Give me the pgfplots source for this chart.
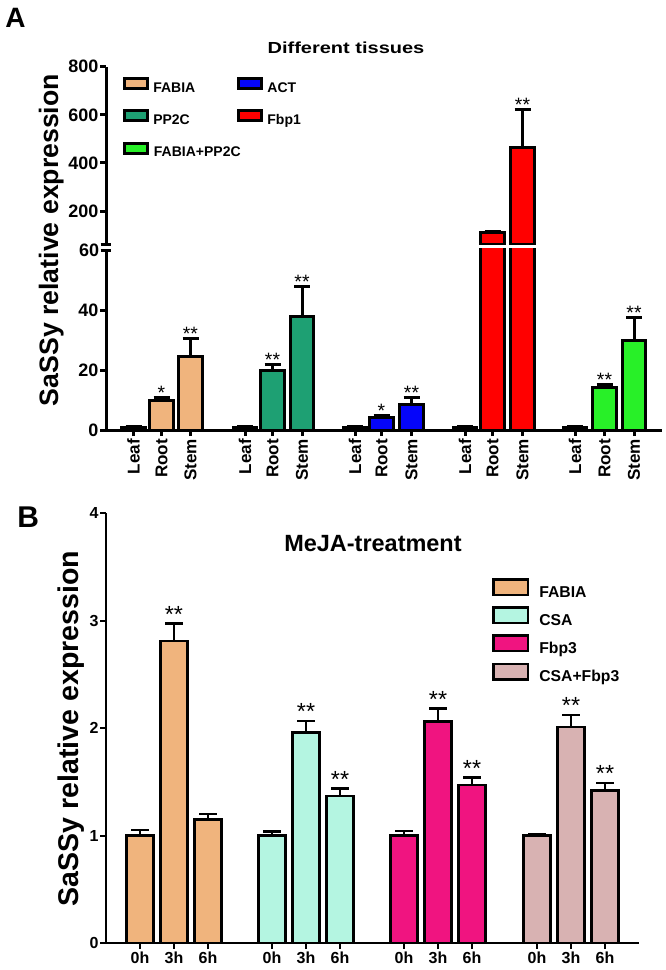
\documentclass[border=0pt]{standalone}
\usepackage{fontspec}
\setmainfont{Liberation Sans}
\usepackage{graphicx}
\usepackage{pgfplots}
\pgfplotsset{compat=1.18}

\definecolor{cFABIA}{RGB}{240,180,125}
\definecolor{cPPTC}{RGB}{30,160,115}
\definecolor{cACT}{RGB}{5,5,250}
\definecolor{cFbpA}{RGB}{255,0,0}
\definecolor{cFP}{RGB}{40,240,40}
\definecolor{cCSA}{RGB}{180,245,225}
\definecolor{cFbpB}{RGB}{240,20,128}
\definecolor{cCF}{RGB}{216,178,178}

\pgfplotsset{
  Abar/.style={ybar, bar width=23.5, draw=black, line width=2.25pt,
    error bars/.cd, y dir=plus, y explicit,
    error bar style={line width=2.25pt, black},
    error mark options={rotate=90, black, mark size=6pt, line width=2.25pt}},
  Bbar/.style={ybar, bar width=27.5, draw=black, line width=1.9pt,
    error bars/.cd, y dir=plus, y explicit,
    error bar style={line width=1.9pt, black},
    error mark options={rotate=90, black, mark size=6.5pt, line width=1.9pt}},
}
\tikzset{
  astA/.style={anchor=base, inner sep=0pt, yshift=-1.5pt, font=\fontsize{14.5}{16}\selectfont},
  astB/.style={anchor=base, inner sep=0pt, yshift=1pt, font=\fontsize{17.5}{20}\selectfont},
}

\begin{document}
\begin{tikzpicture}
\path[use as bounding box] (0pt,0pt) rectangle (499.5pt,-727.5pt);

% ---------------- Panel A, lower segment ----------------
\begin{axis}[
  at={(79.5pt,-322.5pt)}, anchor=south west,
  scale only axis, width=417pt, height=136.125pt,
  xmin=106, xmax=662, ymin=0, ymax=60.5,
  axis x line=bottom, axis y line=left,
  axis line style={-, line width=2.25pt},
  every outer x axis line/.append style={-},
  every outer y axis line/.append style={-},
  tick style={black, line width=2.25pt},
  tick align=outside, major tick length=4.5pt,
  xtick={133.5,161.5,190.5,245,272.5,302,355,381.5,411.5,465,492.5,522.5,575,604.5,634},
  xticklabels={Leaf,Root,Stem,Leaf,Root,Stem,Leaf,Root,Stem,Leaf,Root,Stem,Leaf,Root,Stem},
  xticklabel style={rotate=90, anchor=east, inner sep=2pt, font=\fontsize{12.8}{14}\selectfont\bfseries},
  ytick={0,20,40}, extra y ticks={60},
  extra y tick style={tick align=center, major tick length=8pt},
  yticklabel style={inner xsep=1pt, font=\fontsize{13.5}{15}\selectfont\bfseries},
  /pgf/number format/assume math mode=true,
]
\addplot[fill=cFABIA, Abar] table[x=x,y=y,y error=e] {
x y e
133.5 1 0.15
161.5 10 0.8
190.5 24.5 6.1
};
\addplot[fill=cPPTC, Abar] table[x=x,y=y,y error=e] {
x y e
245 1 0.15
272.5 19.8 1.9
302 38 10
};
\addplot[fill=cACT, Abar] table[x=x,y=y,y error=e] {
x y e
355 1 0.15
381.5 4.2 0.8
411.5 8.6 2.4
};
\addplot[fill=cFbpA, Abar] table[x=x,y=y,y error=e] {
x y e
465 1 0.15
};
\addplot[fill=cFbpA, ybar, bar width=23.5, draw=black, line width=2.25pt] coordinates {(492.5,110) (522.5,466)};
\addplot[fill=cFP, Abar] table[x=x,y=y,y error=e] {
x y e
575 1 0.15
604.5 14.2 1.1
634 30 7.4
};
\node[astA] at (axis cs:161.5,10.8) {*};
\node[astA] at (axis cs:190.5,30.6) {**};
\node[astA] at (axis cs:272.5,21.7) {**};
\node[astA] at (axis cs:302,48) {**};
\node[astA] at (axis cs:381.5,5) {*};
\node[astA] at (axis cs:411.5,11) {**};
\node[astA] at (axis cs:604.5,15.3) {**};
\node[astA] at (axis cs:634,37.4) {**};
\end{axis}

% ---------------- Panel A, upper segment ----------------
\begin{axis}[
  at={(79.5pt,-183.525pt)}, anchor=south west,
  scale only axis, width=417pt, height=133.5pt,
  xmin=106, xmax=662, ymin=60, ymax=800,
  axis x line=none, axis y line=left,
  axis line style={-, line width=2.25pt},
  every outer y axis line/.append style={-},
  tick style={black, line width=2.25pt},
  tick align=outside, major tick length=4.5pt,
  xtick=\empty,
  ytick={200,400,600,800}, extra y ticks={60}, extra y tick labels={},
  extra y tick style={tick align=center, major tick length=8pt},
  yticklabel style={inner xsep=1pt, font=\fontsize{13.5}{15}\selectfont\bfseries},
  /pgf/number format/assume math mode=true,
  legend image code/.code={\draw[#1, line width=2.25pt] (0pt,0pt) rectangle (17.25pt,7.5pt);},
  legend columns=2,
  legend cell align=left,
  legend style={draw=none, fill=none, inner sep=0pt, at={(0.0306,0.942)}, anchor=north west,
    row sep=11pt, column sep=3pt, nodes={inner sep=0pt},
    /tikz/every even column/.append style={column sep=31.6pt},
    font=\fontsize{10.5}{12}\selectfont\bfseries},
]
\addplot[forget plot, fill=cFbpA, Abar] table[x=x,y=y,y error=e] {
x y e
492.5 110 6
522.5 466 154
};
\node[astA] at (axis cs:522.5,620) {**};
\addlegendimage{fill=cFABIA, draw=black}
\addlegendentry{FABIA}
\addlegendimage{fill=cACT, draw=black}
\addlegendentry{ACT}
\addlegendimage{fill=cPPTC, draw=black}
\addlegendentry{PP2C}
\addlegendimage{fill=cFbpA, draw=black}
\addlegendentry{Fbp1}
\addlegendimage{fill=cFP, draw=black}
\addlegendentry{\makebox[0pt][l]{FABIA+PP2C}}
\end{axis}

% ---------------- Panel B ----------------
\begin{axis}[
  at={(79.5pt,-707.25pt)}, anchor=south west,
  scale only axis, width=399.75pt, height=322.5pt,
  xmin=106, xmax=639, ymin=0, ymax=4,
  axis x line=bottom, axis y line=left,
  axis line style={-, line width=1.5pt},
  every outer x axis line/.append style={-},
  every outer y axis line/.append style={-},
  tick style={black, line width=1.5pt},
  tick align=outside, major tick length=4.5pt,
  xtick={140,174,208,272,306,340,404,438,472,537,571,605},
  xticklabels={0h,3h,6h,0h,3h,6h,0h,3h,6h,0h,3h,6h},
  xticklabel style={inner sep=2pt, font=\fontsize{12}{14}\selectfont\bfseries},
  ytick={0,1,2,3,4},
  yticklabel style={inner xsep=1pt, font=\fontsize{12}{14}\selectfont\bfseries},
  /pgf/number format/assume math mode=true,
  legend image code/.code={\draw[#1, line width=1.9pt] (0pt,-1.6pt) rectangle (25.9pt,10pt);},
  legend cell align=left,
  legend style={draw=none, fill=none, inner sep=0pt, at={(0.7242,0.8488)}, anchor=north west,
    row sep=5.25pt, column sep=7.5pt, nodes={inner sep=0pt},
    font=\fontsize{11.8}{13}\selectfont\bfseries},
]
\addplot[forget plot, fill=cFABIA, Bbar] table[x=x,y=y,y error=e] {
x y e
140 1.00 0.05
174 2.81 0.16
208 1.15 0.05
};
\addplot[forget plot, fill=cCSA, Bbar] table[x=x,y=y,y error=e] {
x y e
272 1.00 0.035
306 1.956 0.11
340 1.367 0.07
};
\addplot[forget plot, fill=cFbpB, Bbar] table[x=x,y=y,y error=e] {
x y e
404 1.00 0.04
438 2.06 0.12
472 1.47 0.07
};
\addplot[forget plot, fill=cCF, Bbar] table[x=x,y=y,y error=e] {
x y e
537 1.00 0.01
571 2.01 0.11
605 1.42 0.07
};
\node[astB] at (axis cs:174,2.97) {**};
\node[astB] at (axis cs:306,2.066) {**};
\node[astB] at (axis cs:340,1.437) {**};
\node[astB] at (axis cs:438,2.18) {**};
\node[astB] at (axis cs:472,1.54) {**};
\node[astB] at (axis cs:571,2.12) {**};
\node[astB] at (axis cs:605,1.49) {**};
\addlegendimage{fill=cFABIA, draw=black}
\addlegendentry{FABIA}
\addlegendimage{fill=cCSA, draw=black}
\addlegendentry{CSA}
\addlegendimage{fill=cFbpB, draw=black}
\addlegendentry{Fbp3}
\addlegendimage{fill=cCF, draw=black}
\addlegendentry{CSA+Fbp3}
\end{axis}

% ---------------- Titles, labels, panel letters ----------------
\node[anchor=base west, inner sep=0pt, font=\fontsize{21}{24}\selectfont\bfseries] at (3.75pt,-21pt) {A};
\node[anchor=base west, inner sep=0pt, font=\fontsize{22.5}{26}\selectfont\bfseries] at (12.75pt,-395.25pt) {B};
\node[anchor=base, inner sep=0pt, font=\fontsize{12}{14}\selectfont\bfseries] at (259.5pt,-40.5pt) {\scalebox{1.25}[1]{Different tissues}};
\node[anchor=base, inner sep=0pt, font=\fontsize{17.6}{20}\selectfont\bfseries] at (279.75pt,-413.25pt) {MeJA-treatment};
\node[anchor=base, rotate=90, inner sep=0pt, font=\fontsize{20}{24}\selectfont\bfseries] at (43.5pt,-180pt) {SaSSy relative expression};
\node[anchor=base, rotate=90, inner sep=0pt, font=\fontsize{21.4}{25}\selectfont\bfseries] at (58.5pt,-546.4pt) {SaSSy relative expression};
\end{tikzpicture}
\end{document}
